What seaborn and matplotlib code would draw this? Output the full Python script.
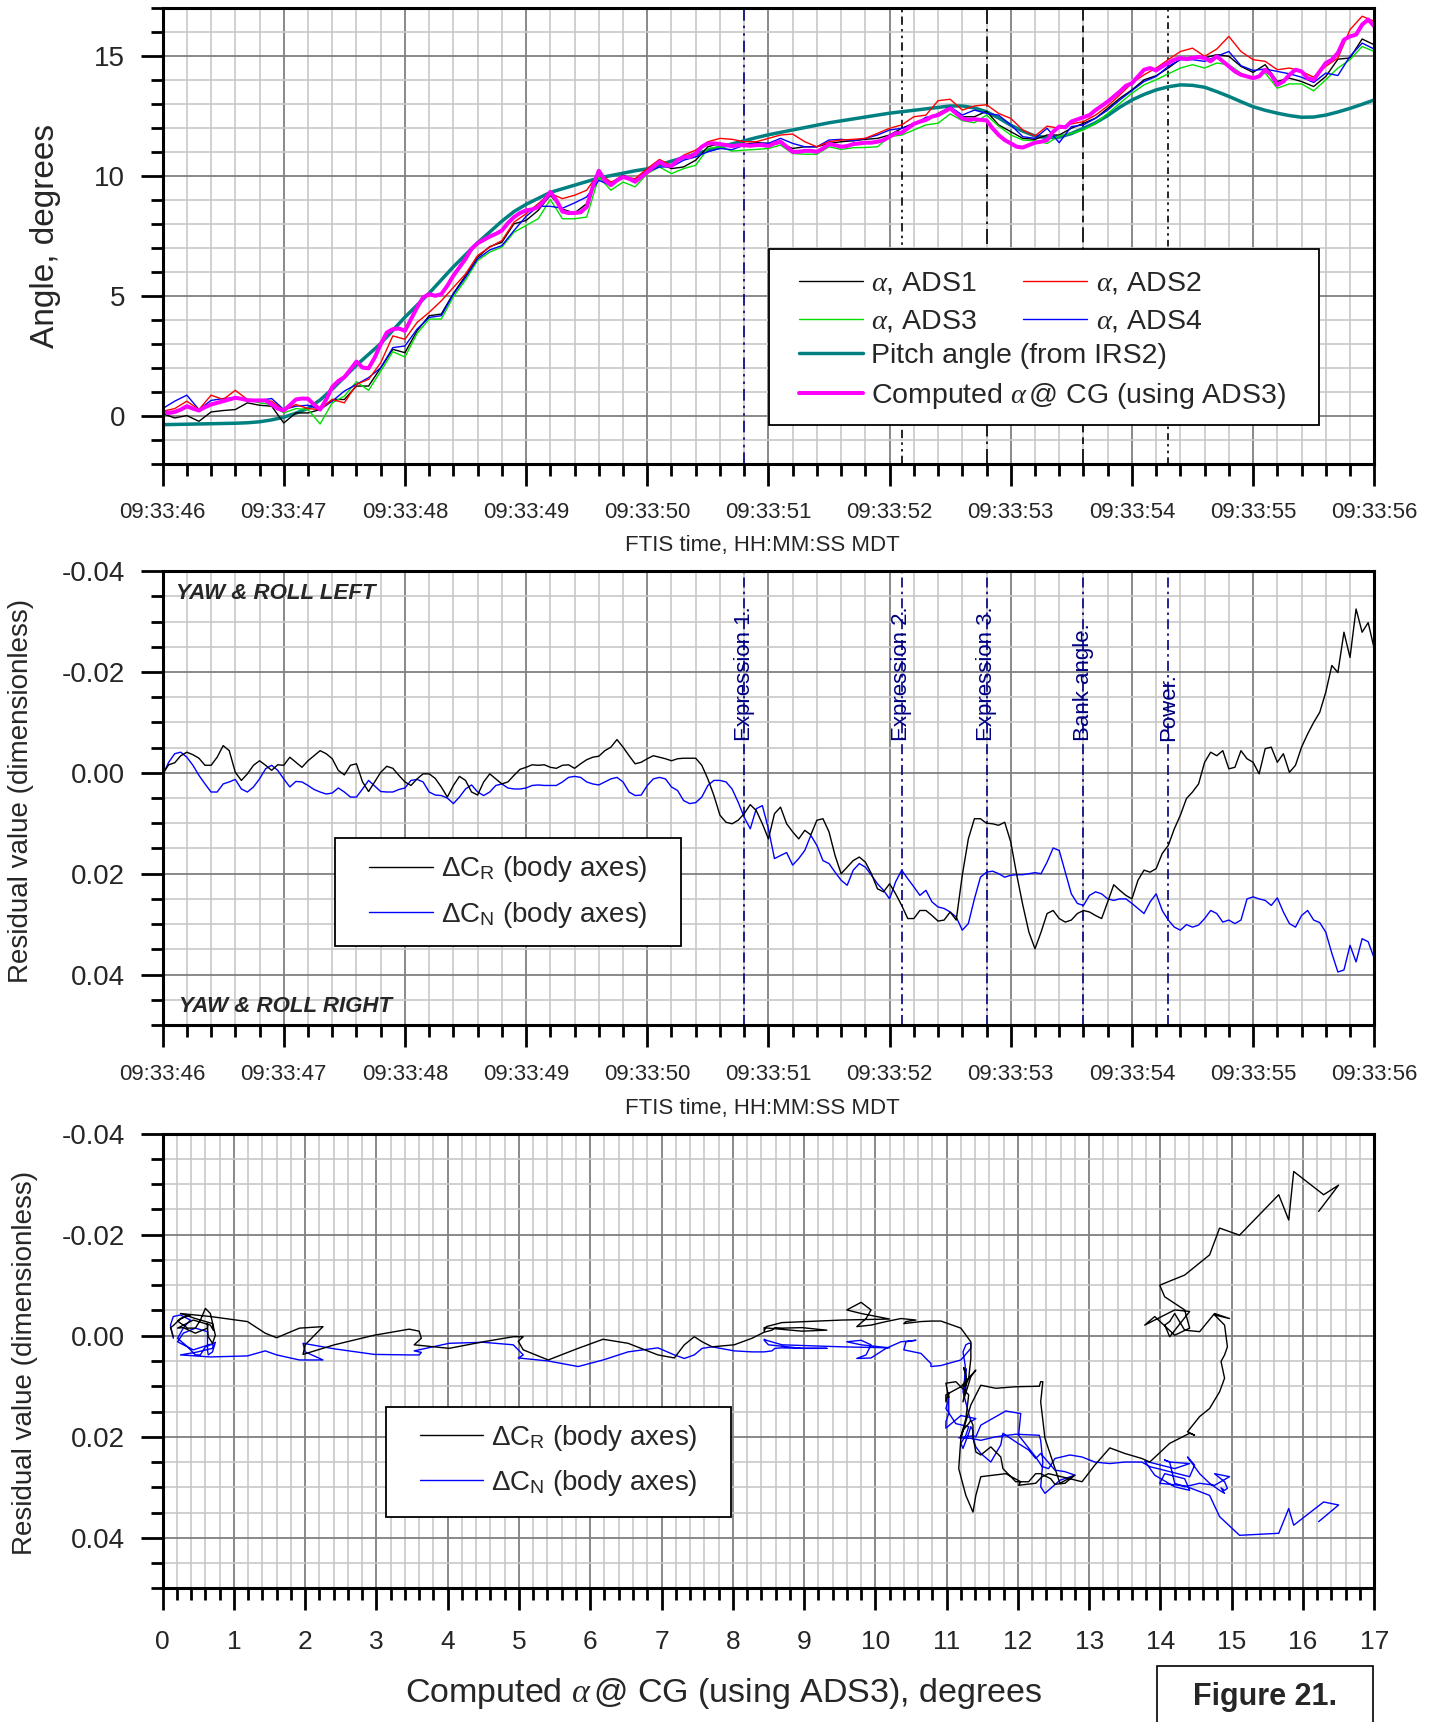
import numpy as np
import matplotlib
matplotlib.use("Agg")
import matplotlib.pyplot as plt
import seaborn as sns
from matplotlib.ticker import MultipleLocator, FixedLocator, FixedFormatter, FormatStrFormatter
from matplotlib.patches import Rectangle

sns.set_style("white")
plt.rcParams['font.family'] = ['Liberation Sans', 'DejaVu Sans']
plt.rcParams['mathtext.fontset'] = 'custom'
plt.rcParams['mathtext.rm'] = 'Liberation Sans'
plt.rcParams['mathtext.it'] = 'Liberation Serif:italic'
plt.rcParams['mathtext.bf'] = 'Liberation Sans:bold'
plt.rcParams['axes.unicode_minus'] = False

# ---------------- data ----------------
# seconds after 09:33:00, sampled every 0.1 s (ADS / pitch) and 0.05 s (alpha@CG, residuals)
time_tick_values = [46, 47, 48, 49, 50, 51, 52, 53, 54, 55, 56]
time_tick_labels = ["09:33:46", "09:33:47", "09:33:48", "09:33:49", "09:33:50", "09:33:51",
                    "09:33:52", "09:33:53", "09:33:54", "09:33:55", "09:33:56"]

ads1 = [0.08, -0.10, 0.00, -0.24, 0.15, 0.21, 0.25, 0.53, 0.43, 0.39,
        -0.31, 0.11, 0.11, 0.25, 0.67, 0.67, 1.23, 1.23, 1.99, 2.76,
        2.62, 3.53, 4.16, 4.23, 5.09, 5.83, 6.60, 7.04, 7.22, 7.99,
        8.13, 8.55, 9.18, 8.60, 8.44, 8.83, 10.08, 9.69, 10.01, 9.80,
        10.25, 10.50, 10.29, 10.36, 10.64, 11.20, 11.34, 11.27, 11.31, 11.37,
        11.34, 11.34, 11.13, 11.20, 11.20, 11.34, 11.41, 11.45, 11.51, 11.55,
        11.69, 11.97, 12.18, 12.32, 12.59, 12.85, 12.45, 12.45, 12.68, 12.11,
        11.83, 11.55, 11.51, 11.69, 11.69, 11.97, 12.18, 12.39, 12.80, 13.22,
        13.57, 13.99, 14.16, 14.48, 14.85, 14.94, 14.90, 15.04, 14.97, 14.55,
        14.30, 14.62, 13.92, 14.06, 13.92, 13.71, 14.13, 14.85, 14.90, 15.69,
        15.45]
ads2 = [0.18, 0.29, 0.60, 0.25, 0.85, 0.67, 1.05, 0.67, 0.63, 0.60,
        0.21, 0.46, 0.29, 0.25, 0.67, 0.53, 1.30, 1.51, 2.20, 3.32,
        3.18, 3.88, 4.30, 4.78, 5.34, 5.90, 6.67, 7.02, 7.29, 8.06,
        8.41, 8.83, 9.25, 9.04, 9.18, 9.39, 10.10, 9.73, 9.94, 9.87,
        10.29, 10.67, 10.43, 10.85, 11.06, 11.41, 11.55, 11.51, 11.41, 11.41,
        11.55, 11.69, 11.73, 11.41, 11.20, 11.41, 11.48, 11.51, 11.55, 11.76,
        11.97, 12.11, 12.45, 12.52, 13.12, 13.18, 12.73, 12.90, 12.95, 12.59,
        12.38, 11.90, 11.65, 12.06, 11.97, 12.15, 12.25, 12.52, 12.90, 13.36,
        13.85, 14.20, 14.48, 14.83, 15.17, 15.31, 14.97, 15.27, 15.80, 15.17,
        14.83, 14.76, 14.41, 14.48, 14.34, 14.10, 14.55, 14.90, 16.08, 16.64,
        16.43]
ads3 = [0.11, 0.11, 0.32, 0.21, 0.46, 0.60, 0.71, 0.67, 0.53, 0.46,
        0.11, 0.29, 0.25, -0.35, 0.53, 0.81, 1.41, 1.05, 1.85, 2.66,
        2.44, 3.42, 4.02, 4.02, 4.95, 5.65, 6.46, 6.81, 7.02, 7.64,
        7.92, 8.20, 9.00, 8.20, 8.20, 8.27, 9.94, 9.39, 9.73, 9.53,
        10.08, 10.36, 10.08, 10.29, 10.43, 11.13, 11.20, 11.02, 11.06, 11.09,
        11.13, 11.27, 10.92, 10.89, 10.89, 11.20, 11.09, 11.16, 11.17, 11.20,
        11.62, 11.69, 11.90, 12.11, 12.18, 12.57, 12.29, 12.20, 12.52, 12.06,
        11.69, 11.48, 11.45, 11.34, 11.65, 11.76, 11.90, 12.18, 12.59, 13.01,
        13.43, 13.78, 13.99, 14.24, 14.48, 14.62, 14.48, 14.69, 14.62, 14.27,
        14.06, 14.27, 13.64, 13.82, 13.82, 13.53, 13.99, 14.48, 14.83, 15.38,
        15.17]
ads4 = [0.29, 0.60, 0.85, 0.25, 0.63, 0.71, 0.74, 0.67, 0.63, 0.71,
        0.25, 0.39, 0.43, 0.25, 0.60, 1.02, 1.30, 1.58, 1.99, 2.83,
        2.90, 3.60, 4.09, 4.16, 5.06, 5.76, 6.53, 6.90, 7.08, 7.71,
        8.30, 8.72, 8.72, 8.64, 8.86, 9.11, 9.80, 9.60, 9.94, 9.80,
        10.15, 10.36, 10.36, 10.64, 10.78, 10.99, 11.13, 11.08, 11.27, 11.34,
        11.34, 11.55, 11.34, 11.20, 11.20, 11.48, 11.51, 11.45, 11.55, 11.69,
        11.90, 11.97, 12.11, 12.43, 12.52, 12.87, 12.52, 12.73, 12.59, 12.52,
        12.11, 11.62, 11.55, 11.97, 11.37, 12.04, 12.11, 12.39, 12.73, 13.15,
        13.54, 13.92, 14.13, 14.55, 14.83, 14.83, 14.76, 14.97, 15.17, 14.58,
        14.38, 14.44, 14.34, 14.24, 14.10, 13.88, 14.27, 14.17, 14.97, 15.52,
        15.27]
pitch = [-0.38, -0.37, -0.36, -0.35, -0.34, -0.33, -0.32, -0.30, -0.26, -0.18,
         -0.07, 0.10, 0.30, 0.65, 1.10, 1.60, 2.10, 2.55, 3.00, 3.55,
         4.10, 4.60, 5.10, 5.65, 6.20, 6.70, 7.20, 7.65, 8.10, 8.50,
         8.80, 9.05, 9.30, 9.45, 9.60, 9.75, 9.90, 10.00, 10.10, 10.20,
         10.28, 10.45, 10.60, 10.75, 10.90, 11.05, 11.18, 11.32, 11.45, 11.58,
         11.70, 11.80, 11.90, 12.00, 12.10, 12.20, 12.28, 12.36, 12.44, 12.52,
         12.60, 12.66, 12.72, 12.78, 12.84, 12.90, 12.90, 12.82, 12.66, 12.40,
         12.10, 11.85, 11.65, 11.58, 11.60, 11.75, 11.97, 12.20, 12.50, 12.85,
         13.15, 13.38, 13.57, 13.70, 13.78, 13.76, 13.68, 13.50, 13.30, 13.08,
         12.87, 12.72, 12.60, 12.50, 12.43, 12.44, 12.52, 12.65, 12.80, 12.97,
         13.15]
alpha_cg = [0.15, 0.11, 0.15, 0.25, 0.39, 0.29, 0.21, 0.35, 0.46, 0.53,
            0.60, 0.67, 0.74, 0.70, 0.64, 0.63, 0.63, 0.63, 0.46, 0.29,
            0.21, 0.43, 0.67, 0.71, 0.70, 0.46, 0.25, 0.67, 1.19, 1.44,
            1.60, 1.92, 2.25, 2.00, 1.97, 2.41, 2.97, 3.46, 3.60, 3.63,
            3.53, 4.02, 4.50, 4.92, 5.06, 4.99, 5.06, 5.41, 5.83, 6.18,
            6.53, 6.95, 7.18, 7.32, 7.46, 7.57, 7.71, 8.02, 8.27, 8.44,
            8.55, 8.59, 8.69, 8.97, 9.32, 8.97, 8.50, 8.44, 8.44, 8.47,
            8.69, 9.53, 10.20, 9.80, 9.60, 9.80, 9.94, 9.87, 9.74, 9.94,
            10.15, 10.36, 10.57, 10.43, 10.40, 10.64, 10.78, 10.78, 10.92, 11.20,
            11.34, 11.34, 11.31, 11.27, 11.23, 11.26, 11.27, 11.24, 11.27, 11.27,
            11.23, 11.34, 11.41, 11.20, 10.99, 10.99, 11.03, 11.03, 10.99, 11.13,
            11.31, 11.27, 11.20, 11.23, 11.31, 11.34, 11.37, 11.37, 11.41, 11.48,
            11.62, 11.76, 11.79, 11.97, 12.15, 12.25, 12.32, 12.46, 12.52, 12.66,
            12.80, 12.59, 12.38, 12.32, 12.35, 12.32, 12.30, 11.97, 11.69, 11.48,
            11.34, 11.20, 11.17, 11.27, 11.37, 11.41, 11.48, 11.83, 12.04, 12.01,
            12.25, 12.34, 12.43, 12.52, 12.73, 12.90, 13.08, 13.29, 13.50, 13.74,
            13.85, 14.13, 14.41, 14.48, 14.38, 14.55, 14.69, 14.83, 14.90, 14.85,
            14.90, 14.94, 14.90, 14.76, 14.97, 14.76, 14.55, 14.34, 14.20, 14.13,
            14.06, 14.13, 14.41, 14.20, 13.78, 13.92, 14.20, 14.41, 14.34, 14.06,
            13.99, 14.34, 14.69, 14.83, 15.11, 15.66, 15.80, 15.87, 16.29, 16.50,
            16.22]
d_cr = [0.0002, -0.0016, -0.0020, -0.0034, -0.0041, -0.0036, -0.0029, -0.0015, -0.0015, -0.0031,
        -0.0054, -0.0044, -0.0001, 0.0015, 0.0002, -0.0015, -0.0024, -0.0015, -0.0005, -0.0016,
        -0.0015, -0.0031, -0.0021, -0.0011, -0.0024, -0.0034, -0.0044, -0.0038, -0.0028, -0.0005,
        0.0004, -0.0015, -0.0018, 0.0018, 0.0037, 0.0018, -0.0001, -0.0013, -0.0009, 0.0005,
        0.0018, 0.0025, 0.0012, 0.0002, 0.0002, 0.0011, 0.0028, 0.0048, 0.0025, 0.0007,
        0.0015, 0.0038, 0.0044, 0.0018, 0.0002, 0.0012, 0.0022, 0.0018, 0.0005, -0.0007,
        -0.0011, -0.0016, -0.0015, -0.0016, -0.0011, -0.0009, -0.0015, -0.0016, -0.0009, -0.0018,
        -0.0026, -0.0031, -0.0033, -0.0044, -0.0051, -0.0066, -0.0051, -0.0034, -0.0018, -0.0021,
        -0.0028, -0.0034, -0.0031, -0.0028, -0.0024, -0.0028, -0.0029, -0.0029, -0.0029, -0.0015,
        0.0012, 0.0045, 0.0084, 0.0098, 0.0101, 0.0094, 0.0081, 0.0063, 0.0075, 0.0101,
        0.0131, 0.0081, 0.0068, 0.0101, 0.0117, 0.0131, 0.0114, 0.0123, 0.0094, 0.0091,
        0.0117, 0.0164, 0.0200, 0.0187, 0.0174, 0.0167, 0.0177, 0.0200, 0.0230, 0.0236,
        0.0220, 0.0240, 0.0263, 0.0289, 0.0289, 0.0273, 0.0273, 0.0283, 0.0294, 0.0292,
        0.0276, 0.0292, 0.0203, 0.0131, 0.0091, 0.0091, 0.0100, 0.0101, 0.0104, 0.0098,
        0.0137, 0.0203, 0.0263, 0.0316, 0.0349, 0.0316, 0.0279, 0.0273, 0.0289, 0.0296,
        0.0292, 0.0279, 0.0273, 0.0276, 0.0283, 0.0289, 0.0256, 0.0222, 0.0233, 0.0243,
        0.0250, 0.0213, 0.0193, 0.0197, 0.0190, 0.0160, 0.0144, 0.0111, 0.0084, 0.0051,
        0.0038, 0.0022, -0.0021, -0.0041, -0.0034, -0.0044, -0.0008, -0.0011, -0.0044, -0.0028,
        -0.0021, 0.0002, -0.0048, -0.0051, -0.0021, -0.0038, -0.0001, -0.0015, -0.0051, -0.0077,
        -0.0100, -0.0120, -0.0160, -0.0213, -0.0199, -0.0279, -0.0229, -0.0325, -0.0279, -0.0298,
        -0.0246]
d_cn = [0.0005, -0.0021, -0.0038, -0.0041, -0.0031, -0.0015, 0.0005, 0.0022, 0.0038, 0.0038,
        0.0022, 0.0018, 0.0013, 0.0032, 0.0038, 0.0028, 0.0012, -0.0008, -0.0015, -0.0005,
        0.0012, 0.0028, 0.0017, 0.0018, 0.0025, 0.0033, 0.0038, 0.0042, 0.0040, 0.0030,
        0.0038, 0.0048, 0.0048, 0.0032, 0.0015, 0.0026, 0.0037, 0.0038, 0.0038, 0.0033,
        0.0030, 0.0015, 0.0013, 0.0018, 0.0038, 0.0044, 0.0045, 0.0050, 0.0061, 0.0048,
        0.0032, 0.0024, 0.0038, 0.0045, 0.0038, 0.0025, 0.0022, 0.0030, 0.0032, 0.0032,
        0.0030, 0.0025, 0.0024, 0.0025, 0.0025, 0.0025, 0.0018, 0.0009, 0.0007, 0.0009,
        0.0018, 0.0022, 0.0024, 0.0018, 0.0012, 0.0009, 0.0018, 0.0038, 0.0045, 0.0044,
        0.0025, 0.0012, 0.0009, 0.0012, 0.0028, 0.0035, 0.0055, 0.0061, 0.0059, 0.0048,
        0.0025, 0.0015, 0.0015, 0.0018, 0.0032, 0.0058, 0.0088, 0.0111, 0.0071, 0.0065,
        0.0111, 0.0170, 0.0164, 0.0158, 0.0183, 0.0170, 0.0154, 0.0124, 0.0144, 0.0174,
        0.0180, 0.0197, 0.0213, 0.0223, 0.0193, 0.0180, 0.0187, 0.0203, 0.0220, 0.0233,
        0.0250, 0.0216, 0.0193, 0.0210, 0.0226, 0.0243, 0.0233, 0.0256, 0.0266, 0.0269,
        0.0276, 0.0286, 0.0312, 0.0299, 0.0250, 0.0207, 0.0197, 0.0195, 0.0200, 0.0207,
        0.0203, 0.0202, 0.0202, 0.0200, 0.0198, 0.0200, 0.0177, 0.0149, 0.0154, 0.0197,
        0.0240, 0.0259, 0.0263, 0.0243, 0.0236, 0.0240, 0.0250, 0.0253, 0.0250, 0.0250,
        0.0259, 0.0269, 0.0279, 0.0256, 0.0240, 0.0273, 0.0292, 0.0306, 0.0312, 0.0301,
        0.0306, 0.0302, 0.0289, 0.0273, 0.0279, 0.0296, 0.0292, 0.0299, 0.0292, 0.0250,
        0.0246, 0.0250, 0.0253, 0.0263, 0.0248, 0.0276, 0.0299, 0.0306, 0.0283, 0.0273,
        0.0292, 0.0297, 0.0316, 0.0358, 0.0395, 0.0391, 0.0342, 0.0375, 0.0329, 0.0335,
        0.0368]

event_times = [50.8, 52.1, 52.8, 53.6, 54.3]
event_labels = ["Expression 1.", "Expression 2.", "Expression 3.", "Bank angle.", "Power."]
alpha_tick_values = list(range(0, 18))
alpha_tick_labels = [str(v) for v in alpha_tick_values]

t10 = 46 + 0.1 * np.arange(len(ads1))
t05 = 46 + 0.05 * np.arange(len(alpha_cg))

# ---------------- figure ----------------
fig = plt.figure(figsize=(14.39, 17.22), dpi=100)
ax1 = fig.add_axes([0.113, 0.7308, 0.842, 0.2648])
ax2 = fig.add_axes([0.113, 0.4048, 0.842, 0.2635])
ax3 = fig.add_axes([0.113, 0.0776, 0.842, 0.2641])

NAVY = '#000080'


def style_axis(ax, xlab_size, ylab_size, xpad, ypad):
    for s in ax.spines.values():
        s.set_linewidth(2.2)
        s.set_color('black')
        s.set_zorder(6)
    ax.tick_params(which='major', direction='out', length=16, width=2.0, color='black',
                   bottom=True, left=True, top=False, right=False)
    ax.tick_params(which='minor', direction='out', length=8.5, width=2.0, color='black',
                   bottom=True, left=True, top=False, right=False)
    ax.tick_params(axis='x', which='major', labelsize=xlab_size, pad=xpad)
    ax.tick_params(axis='y', which='major', labelsize=ylab_size, pad=ypad)
    ax.grid(True, which='minor', color='#c8c8c8', lw=1.2)
    ax.grid(True, which='major', color='#808080', lw=1.3)
    ax.set_axisbelow(True)


def time_axis(ax):
    ax.set_xlim(46, 56)
    ax.xaxis.set_major_locator(FixedLocator(time_tick_values))
    ax.xaxis.set_major_formatter(FixedFormatter(time_tick_labels))
    ax.xaxis.set_minor_locator(MultipleLocator(0.2))


# ---- top panel ----
sns.lineplot(x=t10, y=pitch, ax=ax1, color='#008080', lw=2.5, estimator=None, sort=False)
l_pitch = ax1.lines[-1]
sns.lineplot(x=t10, y=ads1, ax=ax1, color='black', lw=1.0, estimator=None, sort=False)
l1 = ax1.lines[-1]
sns.lineplot(x=t10, y=ads3, ax=ax1, color='#00e000', lw=1.0, estimator=None, sort=False)
l3 = ax1.lines[-1]
sns.lineplot(x=t10, y=ads4, ax=ax1, color='#0000ff', lw=1.0, estimator=None, sort=False)
l4 = ax1.lines[-1]
sns.lineplot(x=t10, y=ads2, ax=ax1, color='#ff0000', lw=1.0, estimator=None, sort=False)
l2 = ax1.lines[-1]
sns.lineplot(x=t05, y=alpha_cg, ax=ax1, color='#ff00ff', lw=2.9, estimator=None, sort=False)
l_cg = ax1.lines[-1]

top_styles = [(0, (7, 3, 1.5, 3, 1.5, 3)), (0, (5, 2.5, 1.5, 2.5, 1.5, 2.5)), (0, (9, 3, 1.5, 3)),
              (0, (9, 3, 4, 3)), (0, (4, 2.5, 1.5, 2.5, 1.5, 2.5))]
top_colors = [NAVY, 'black', 'black', 'black', 'black']
for t, st, c in zip(event_times, top_styles, top_colors):
    ax1.axvline(t, color=c, ls=st, lw=1.2, zorder=1.5)

time_axis(ax1)
ax1.set_ylim(-2, 17)
ax1.yaxis.set_major_locator(FixedLocator([0, 5, 10, 15]))
ax1.yaxis.set_minor_locator(MultipleLocator(1))
ax1.yaxis.set_major_formatter(FormatStrFormatter('%d'))
style_axis(ax1, 16, 20, 12, 11)
ax1.set_ylabel('Angle, degrees', fontsize=24)
ax1.yaxis.set_label_coords(-0.0835, 0.5)
ax1.set_xlabel('FTIS time, HH:MM:SS MDT', fontsize=16)
ax1.xaxis.set_label_coords(0.495, -0.156)

ax1.add_patch(Rectangle((0.5005, 0.0847), 0.454, 0.386, transform=ax1.transAxes,
                        fc='white', ec='black', lw=1.3, zorder=4))
leg_kw = dict(frameon=False, fontsize=20.5, handlelength=2.25, handletextpad=0.3,
              borderpad=0, borderaxespad=0, labelspacing=0.42)
leg1 = ax1.legend([l1, l3, l2, l4],
                  [r'$\alpha$, ADS1', r'$\alpha$, ADS3', r'$\alpha$, ADS2', r'$\alpha$, ADS4'],
                  ncol=2, columnspacing=1.6, loc='center left',
                  bbox_to_anchor=(0.5251, 0.353), **leg_kw)
ax1.add_artist(leg1)
ax1.legend([l_pitch, l_cg],
           ['Pitch angle (from IRS2)', r'Computed $\alpha\,$@ CG (using ADS3)'],
           loc='center left', bbox_to_anchor=(0.5251, 0.1904), **leg_kw)

# ---- middle panel ----
sns.lineplot(x=t05, y=d_cn, ax=ax2, color='#0000ff', lw=1.0, estimator=None, sort=False)
m_cn = ax2.lines[-1]
sns.lineplot(x=t05, y=d_cr, ax=ax2, color='black', lw=1.0, estimator=None, sort=False)
m_cr = ax2.lines[-1]
for t, lab in zip(event_times, event_labels):
    ax2.axvline(t, color=NAVY, ls=(0, (6, 2.5, 1.5, 2.5)), lw=1.2, zorder=1.5)
    ax2.text(t, -0.0064, lab, rotation=90, ha='center', va='bottom', color=NAVY, fontsize=16)

time_axis(ax2)
ax2.set_ylim(0.05, -0.04)
ax2.yaxis.set_major_locator(FixedLocator([-0.04, -0.02, 0.0, 0.02, 0.04]))
ax2.yaxis.set_minor_locator(MultipleLocator(0.005))
ax2.yaxis.set_major_formatter(FormatStrFormatter('%.2f'))
style_axis(ax2, 16, 20, 12, 11)
ax2.set_ylabel('Residual value (dimensionless)', fontsize=20)
ax2.yaxis.set_label_coords(-0.106, 0.516)
ax2.set_xlabel('FTIS time, HH:MM:SS MDT', fontsize=16)
ax2.xaxis.set_label_coords(0.495, -0.161)
ax2.text(0.0109, 0.9515, 'YAW & ROLL LEFT', transform=ax2.transAxes, fontsize=16,
         fontweight='bold', fontstyle='italic', ha='left', va='center')
ax2.text(0.0136, 0.0414, 'YAW & ROLL RIGHT', transform=ax2.transAxes, fontsize=16,
         fontweight='bold', fontstyle='italic', ha='left', va='center')

res_labels = [r'$\Delta\mathrm{C}_\mathrm{R}$ (body axes)', r'$\Delta\mathrm{C}_\mathrm{N}$ (body axes)']
leg_kw2 = dict(frameon=False, fontsize=20, handlelength=2.3, handletextpad=0.28,
               borderpad=0, borderaxespad=0, labelspacing=0.55)
ax2.add_patch(Rectangle((0.1423, 0.174), 0.2856, 0.238, transform=ax2.transAxes,
                        fc='white', ec='black', lw=1.3, zorder=4))
ax2.legend([m_cr, m_cn], res_labels, loc='center left', bbox_to_anchor=(0.1704, 0.2931), **leg_kw2)

# ---- bottom panel ----
sns.lineplot(x=alpha_cg, y=d_cn, ax=ax3, color='#0000ff', lw=1.0, estimator=None, sort=False)
b_cn = ax3.lines[-1]
sns.lineplot(x=alpha_cg, y=d_cr, ax=ax3, color='black', lw=1.0, estimator=None, sort=False)
b_cr = ax3.lines[-1]
ax3.set_xlim(0, 17)
ax3.xaxis.set_major_locator(FixedLocator(alpha_tick_values))
ax3.xaxis.set_major_formatter(FixedFormatter(alpha_tick_labels))
ax3.xaxis.set_minor_locator(MultipleLocator(0.2))
ax3.set_ylim(0.05, -0.04)
ax3.yaxis.set_major_locator(FixedLocator([-0.04, -0.02, 0.0, 0.02, 0.04]))
ax3.yaxis.set_minor_locator(MultipleLocator(0.005))
ax3.yaxis.set_major_formatter(FormatStrFormatter('%.2f'))
style_axis(ax3, 19, 20, 14, 11)
ax3.set_ylabel('Residual value (dimensionless)', fontsize=20)
ax3.yaxis.set_label_coords(-0.103, 0.496)
ax3.set_xlabel(r'Computed $\alpha\,$@ CG (using ADS3), degrees', fontsize=24.5)
ax3.xaxis.set_label_coords(0.4633, -0.193)
ax3.add_patch(Rectangle((0.184, 0.157), 0.2847, 0.2419, transform=ax3.transAxes,
                        fc='white', ec='black', lw=1.3, zorder=4))
ax3.legend([b_cr, b_cn], res_labels, loc='center left', bbox_to_anchor=(0.2121, 0.2812), **leg_kw2)

# ---- figure tag ----
fig.add_artist(Rectangle((0.8038, -0.01), 0.1501, 0.0425, transform=fig.transFigure,
                         fc='white', ec='black', lw=1.2))
fig.text(0.879, 0.0145, 'Figure 21.', fontsize=22, fontweight='bold', ha='center', va='center')

fig.savefig('out.png', dpi=100)
